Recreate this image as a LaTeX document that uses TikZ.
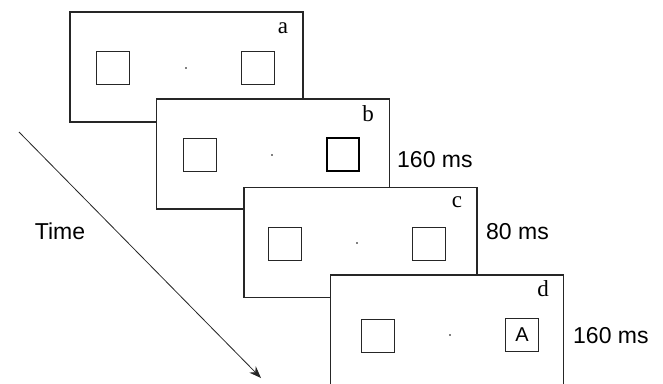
\documentclass[tikz,border=0pt]{standalone}
\usepackage{fontspec}
\setmainfont{Liberation Serif}
\setsansfont{Liberation Sans}
\usetikzlibrary{arrows.meta}
\definecolor{ink}{HTML}{262626}
\tikzset{
  frame/.style={draw=ink, line width=1.2pt, fill=white, minimum width=233pt, minimum height=110pt, inner sep=0pt},
  sq/.style={draw=ink, line width=1pt, minimum width=33pt, minimum height=33pt, inner sep=0pt},
  thicksq/.style={draw=black, line width=2.6pt, minimum width=32pt, minimum height=33pt, inner sep=0pt},
  fix/.style={circle, fill=black, inner sep=0pt, minimum size=1.6pt},
  lab/.style={font=\fontsize{23}{23}\selectfont, inner sep=0pt},
  dur/.style={font=\sffamily\fontsize{23}{23}\selectfont, anchor=west, inner sep=0pt},
}
\begin{document}
\begin{tikzpicture}[x=1pt, y=-1pt]
\clip (0,0) rectangle (663,383);
\fill[white] (0,0) rectangle (663,383);
% frame a
\node[frame] (fa) at (186.5,67) {};
\node[sq] (a1) at (113,67.5) {};
\node[sq] (a2) at (257.5,67.5) {};
\node[fix] (a0) at (186,68) {};
\node[lab] (la) at (283,28) {a};
% frame b
\node[frame] (fb) at (273,154) {};
\node[sq] (b1) at (199.5,154.5) {};
\node[thicksq] (b2) at (343,154.5) {};
\node[fix] (b0) at (272,155) {};
\node[lab] (lb) at (368,114) {b};
\node[dur] (tb) at (397,160) {160 ms};
% frame c
\node[frame] (fc) at (360.5,242.5) {};
\node[sq] (c1) at (285,243.5) {};
\node[sq] (c2) at (429,243.5) {};
\node[fix] (c0) at (357,243) {};
\node[lab] (lc) at (457,202) {c};
\node[dur] (tc) at (486,232) {80 ms};
% frame d
\node[frame] (fd) at (447,330) {};
\node[sq] (d1) at (378,335.5) {};
\node[sq, font=\sffamily\fontsize{20}{20}\selectfont] (d2) at (522,335) {A};
\node[fix] (d0) at (450,335) {};
\node[lab] (ld) at (543,289) {d};
\node[dur] (td) at (573,336) {160 ms};
% time arrow
\coordinate (t0) at (19,132);
\coordinate (t1) at (261,378);
\draw[ink, line width=0.8pt, -{Stealth[length=12pt,width=9pt]}] (t0) -- (t1);
\node[font=\sffamily\fontsize{23}{23}\selectfont, inner sep=0pt] (time) at (60,231) {Time};
\end{tikzpicture}
\end{document}
